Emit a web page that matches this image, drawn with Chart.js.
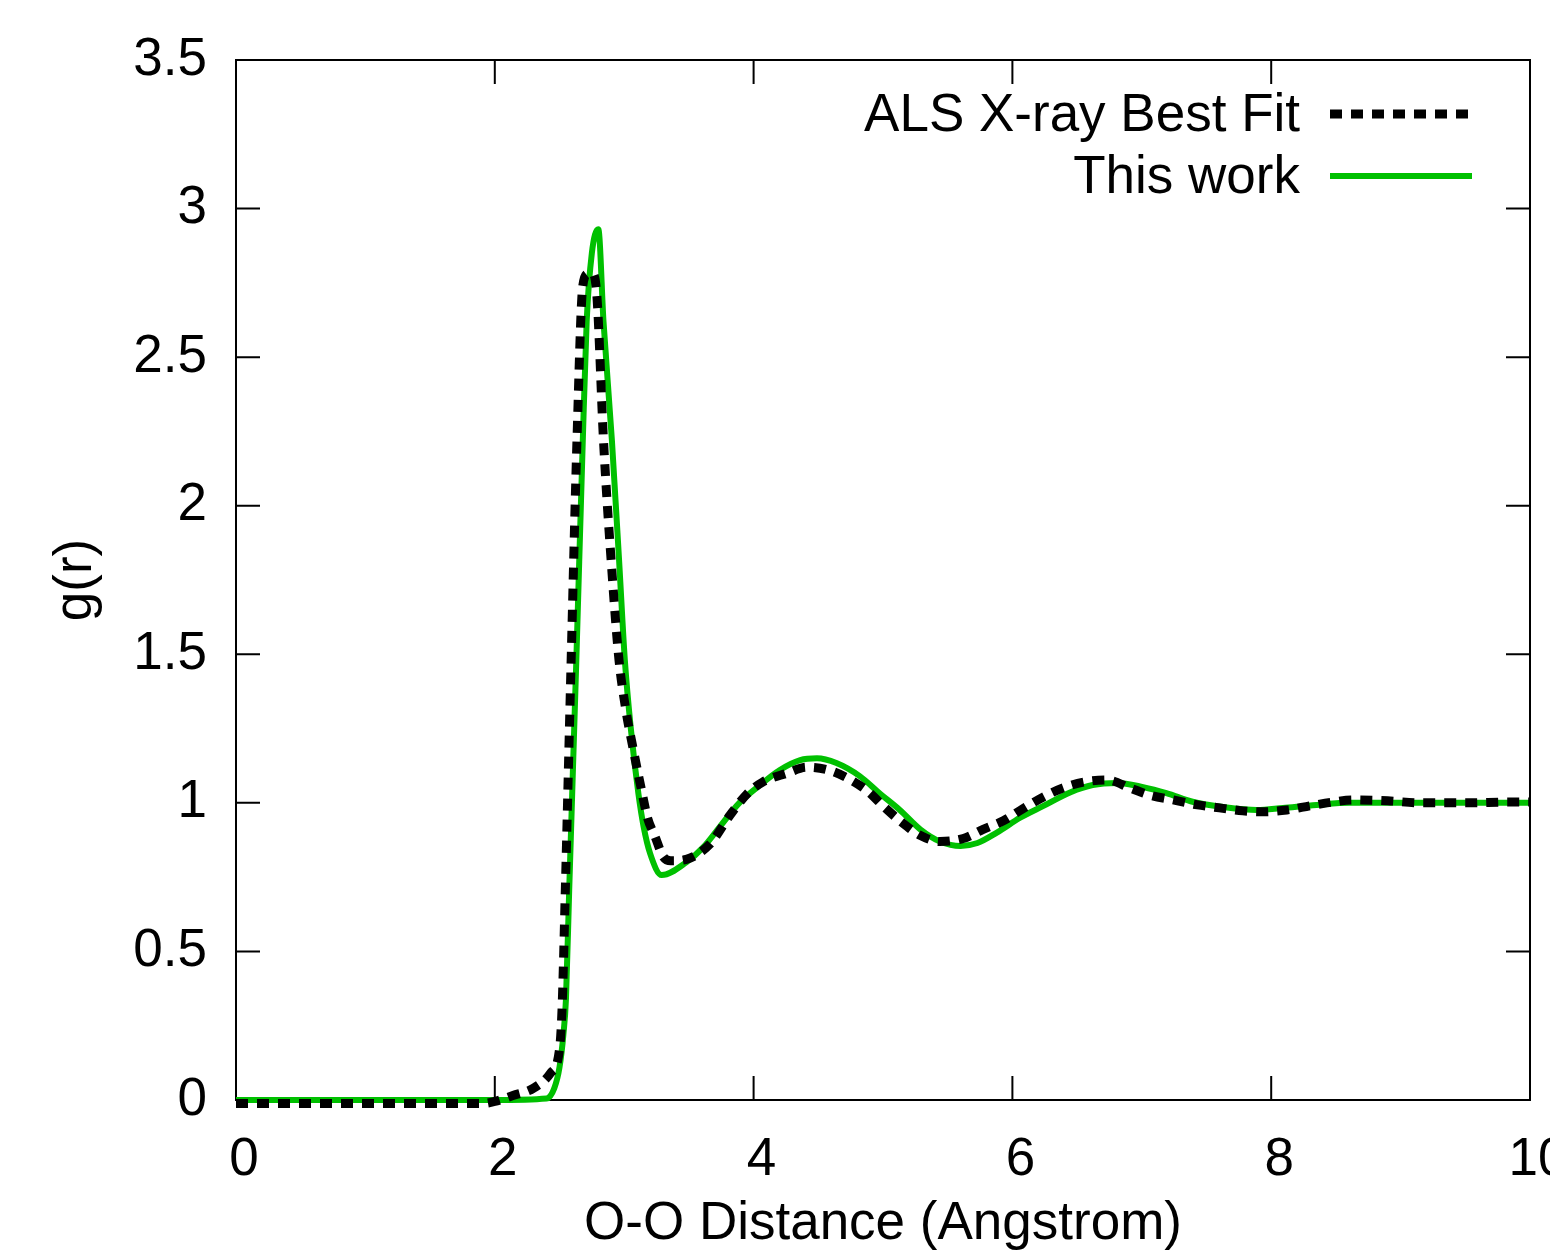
<!DOCTYPE html>
<html>
<head>
<meta charset="utf-8">
<script src="https://cdn.jsdelivr.net/npm/chart.js@4.4.1/dist/chart.umd.min.js"></script>
<style>
html, body { margin: 0; padding: 0; background: #fff; overflow: hidden; }
</style>
</head>
<body>
<canvas id="gofr" width="1550" height="1251"></canvas>
<script>
// O-O radial distribution
var alsR = [0, 1, 1.9, 2.0, 2.14, 2.3, 2.43, 2.5, 2.52, 2.545, 2.59, 2.635, 2.68, 2.72, 2.76, 2.79,
    2.84, 2.905, 2.96, 3.01, 3.07, 3.14, 3.18, 3.24, 3.30, 3.36, 3.48, 3.66, 3.82, 3.95, 4.07,
    4.26, 4.41, 4.58, 4.74, 4.88, 5.0, 5.13, 5.29, 5.44, 5.62, 5.77, 5.93, 6.08, 6.24, 6.39,
    6.55, 6.73, 6.91, 7.06, 7.24, 7.43, 7.6, 7.78, 7.94, 8.12, 8.3, 8.48, 8.63, 8.9, 9.15,
    9.5, 9.85, 10];
var alsG = [-0.012, -0.012, -0.012, -0.005, 0.015, 0.04, 0.09, 0.17, 0.31, 0.707, 1.48, 2.22, 2.74, 2.78, 2.78, 2.7,
    2.22, 1.78, 1.48, 1.32, 1.18, 1.03, 0.95, 0.885, 0.82, 0.805, 0.81, 0.86, 0.96, 1.03, 1.07,
    1.10, 1.12, 1.11, 1.08, 1.04, 0.99, 0.94, 0.89, 0.87, 0.88, 0.91, 0.94, 0.98, 1.02, 1.05,
    1.07, 1.077, 1.05, 1.026, 1.01, 0.993, 0.983, 0.973, 0.97, 0.976, 0.99, 1.003, 1.01, 1.007, 1.0,
    1.0, 1.003, 1.003];

var workR = [0, 1, 2, 2.40, 2.46, 2.50, 2.53, 2.55, 2.575, 2.63, 2.68, 2.71, 2.75, 2.80, 2.84, 2.905,
    2.96, 3.005, 3.05, 3.11, 3.15, 3.20, 3.29, 3.48, 3.61, 3.74, 3.89, 4.05, 4.2, 4.36, 4.49,
    4.64, 4.82, 4.98, 5.13, 5.29, 5.44, 5.6, 5.73, 5.88, 6.06, 6.24, 6.45, 6.62, 6.81, 7.01,
    7.19, 7.40, 7.63, 7.89, 8.09, 8.35, 8.61, 9.0, 9.5, 10];
var workG = [0, 0, 0, 0.005, 0.04, 0.11, 0.22, 0.34, 0.707, 1.48, 2.22, 2.62, 2.85, 2.93, 2.62, 2.22,
    1.82, 1.48, 1.255, 1.03, 0.92, 0.83, 0.757, 0.80, 0.85, 0.92, 1.0, 1.06, 1.11, 1.144, 1.15,
    1.134, 1.09, 1.03, 0.976, 0.91, 0.87, 0.855, 0.865, 0.90, 0.95, 0.99, 1.036, 1.06, 1.067, 1.053,
    1.033, 1.003, 0.986, 0.976, 0.983, 0.993, 1.0, 1.0, 1.0, 1.0];

var xTickLabels = ['0', '2', '4', '6', '8', '10'];
var yTickLabels = ['0', '0.5', '1', '1.5', '2', '2.5', '3', '3.5'];

var FONT = '"Liberation Sans", Arial, Helvetica, sans-serif';
var TICK = 24;

function toPoints(xs, ys) {
    var pts = [];
    for (var i = 0; i < xs.length; i++) pts.push({ x: xs[i], y: ys[i] });
    return pts;
}

// gnuplot style frame: full box with inward ticks on all four sides
var framePlugin = {
    id: 'frame',
    beforeDatasetsDraw: function(chart) {
        var ctx = chart.ctx, a = chart.chartArea;
        var xs = chart.scales.x, ys = chart.scales.y;
        ctx.save();
        ctx.strokeStyle = '#000';
        ctx.lineWidth = 2;
        ctx.strokeRect(a.left, a.top, a.right - a.left, a.bottom - a.top);
        ctx.beginPath();
        xs.ticks.forEach(function(t) {
            var px = xs.getPixelForValue(t.value);
            ctx.moveTo(px, a.bottom); ctx.lineTo(px, a.bottom - TICK);
            ctx.moveTo(px, a.top); ctx.lineTo(px, a.top + TICK);
        });
        ys.ticks.forEach(function(t) {
            var py = ys.getPixelForValue(t.value);
            ctx.moveTo(a.left, py); ctx.lineTo(a.left + TICK, py);
            ctx.moveTo(a.right, py); ctx.lineTo(a.right - TICK, py);
        });
        ctx.stroke();
        ctx.restore();
    }
};

// legend in the upper right: text right aligned, line sample after it
var keyPlugin = {
    id: 'key',
    afterDatasetsDraw: function(chart) {
        var ctx = chart.ctx;
        var textRight = 1300, lineX0 = 1330, lineX1 = 1472;
        var rowY = [114, 176];
        ctx.save();
        ctx.font = '53px ' + FONT;
        ctx.textAlign = 'right';
        ctx.textBaseline = 'middle';
        chart.data.datasets.forEach(function(ds, i) {
            ctx.fillStyle = '#000';
            ctx.fillText(ds.label, textRight, rowY[i] + 2);
            ctx.strokeStyle = ds.borderColor;
            ctx.lineWidth = ds.borderWidth;
            ctx.lineCap = 'butt';
            ctx.setLineDash(ds.borderDash || []);
            ctx.beginPath();
            ctx.moveTo(lineX0, rowY[i]);
            ctx.lineTo(lineX1, rowY[i]);
            ctx.stroke();
        });
        ctx.restore();
    }
};

Chart.defaults.font.family = FONT;
Chart.defaults.font.size = 53;
Chart.defaults.color = '#000';

var ctx = document.getElementById('gofr').getContext('2d');
var chart = new Chart(ctx, {
    type: 'line',
    data: {
        datasets: [
            {
                label: 'ALS X-ray Best Fit',
                data: toPoints(alsR, alsG),
                borderColor: '#000000',
                borderWidth: 9,
                borderDash: [12, 9],
                pointRadius: 0,
                fill: false,
                clip: false,
                cubicInterpolationMode: 'monotone'
            },
            {
                label: 'This work',
                data: toPoints(workR, workG),
                borderColor: '#00c000',
                borderWidth: 6,
                pointRadius: 0,
                fill: false,
                clip: false,
                cubicInterpolationMode: 'monotone'
            }
        ]
    },
    options: {
        responsive: false,
        animation: false,
        layout: { padding: { top: 60, right: 20, left: 0, bottom: 0 } },
        plugins: {
            legend: { display: false },
            tooltip: { enabled: false }
        },
        scales: {
            x: {
                type: 'linear',
                min: 0,
                max: 10,
                grid: { display: false, drawTicks: false },
                border: { display: false },
                ticks: {
                    stepSize: 2,
                    padding: 29,
                    labelOffset: 8,
                    maxRotation: 0,
                    callback: function(v, i) { return xTickLabels[i]; }
                },
                title: {
                    display: true,
                    text: 'O-O Distance (Angstrom)',
                    font: { size: 53, lineHeight: 1 },
                    padding: { top: 0, bottom: 0 }
                },
                afterFit: function(scale) {
                    scale.height = 151;
                    scale.paddingLeft = 0;
                    scale.paddingRight = 0;
                }
            },
            y: {
                type: 'linear',
                min: 0,
                max: 3.5,
                grid: { display: false, drawTicks: false },
                border: { display: false },
                ticks: {
                    stepSize: 0.5,
                    padding: 29,
                    callback: function(v, i) { return yTickLabels[i]; }
                },
                title: {
                    display: true,
                    text: 'g(r)',
                    font: { size: 53, lineHeight: 1 },
                    padding: { top: 50, bottom: 0 }
                },
                afterFit: function(scale) {
                    scale.width = 236;
                    scale.paddingTop = 0;
                    scale.paddingBottom = 0;
                }
            }
        }
    },
    plugins: [framePlugin, keyPlugin]
});
</script>
</body>
</html>
